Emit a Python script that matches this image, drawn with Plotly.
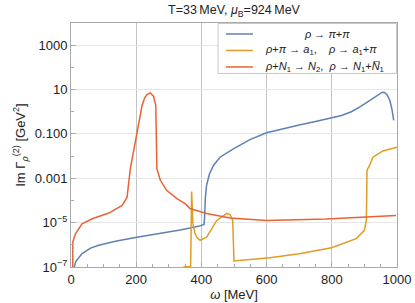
import plotly.graph_objects as go

# rho -> pi + pi
w_pipi = [8, 15, 34, 60, 85, 140, 202, 289, 335, 391, 408, 410, 412, 416, 425, 437, 457,
          498, 549, 600, 650, 700, 750, 800, 830, 860, 885, 910, 930, 945, 955, 962,
          970, 978, 984, 990]
v_pipi = [7.9e-8, 1.8e-7, 4.0e-7, 7.1e-7, 9.5e-7, 1.5e-6, 2.2e-6, 3.5e-6, 4.7e-6, 6.8e-6,
          8.3e-6, 2.0e-5, 1.26e-4, 5.0e-4, 1.6e-3, 3.8e-3, 8.9e-3,
          2.1e-2, 5.5e-2, 0.112, 0.17, 0.25, 0.36, 0.52, 0.68, 1.0, 1.6, 2.8, 4.5, 6.3, 7.6, 7.4,
          5.75, 3.2, 1.4, 0.41]

# rho + pi -> a1, rho -> a1 + pi
w_a1 = [345, 365, 367, 370, 374, 380, 386, 396, 416, 447, 478, 488, 493, 496, 500,
        610, 700, 799, 875, 900, 906, 908, 916, 926, 957, 1000]
v_a1 = [1.02e-7, 1.02e-7, 1.02e-7, 2.5e-4, 9.0e-6, 3.5e-6, 2.2e-6, 1.6e-6, 2.2e-6, 1.26e-5,
        2.6e-5, 2.3e-5, 1.5e-5, 1.26e-5, 1.86e-7,
        2.6e-7, 4.0e-7, 7.4e-7, 1.9e-6, 4.5e-6, 1.26e-5, 2.3e-3, 3.8e-3, 8.9e-3, 1.7e-2, 2.5e-2]

# rho + N1 -> N2, rho -> N1 + N1bar
w_nn = [5, 5.6, 14, 34, 65, 116, 157, 172, 182, 192, 202, 210, 218, 226, 233, 243, 253,
        260, 263.5, 274, 294, 325, 350, 365, 416, 488, 579, 600, 783, 997]
v_nn = [1e-9, 1.35e-6, 3.2e-6, 8.9e-6, 1.5e-5, 2.7e-5, 6.0e-5, 1.4e-4, 2.7e-3, 1.7e-2,
        0.12, 0.6, 1.9, 4.2, 6.0, 7.1, 5.0,
        2.0, 2.7e-3, 8.1e-4, 2.8e-4, 1.2e-4, 7.2e-5, 4.3e-5, 2.6e-5, 1.6e-5, 1.26e-5,
        1.26e-5, 1.45e-5, 2.1e-5]

x_ticks = [0, 200, 400, 600, 800, 1000]
y_ticks = [1e-7, 1e-5, 1e-3, 1e-1, 10, 1000]
y_ticktext = ["10<sup>\u22127</sup>", "10<sup>\u22125</sup>", "0.001", "0.100", "10", "1000"]
y_minor = [1e-6, 1e-4, 1e-2, 1, 100]

names = [
    "<i>\u03c1</i> \u2192 <i>\u03c0</i>+<i>\u03c0</i>",
    "<i>\u03c1</i>+<i>\u03c0</i> \u2192 <i>a</i><sub>1</sub>,\u00a0\u00a0\u00a0 <i>\u03c1</i> \u2192 <i>a</i><sub>1</sub>+<i>\u03c0</i>",
    "<i>\u03c1</i>+<i>N</i><sub>1</sub> \u2192 <i>N</i><sub>2</sub>,\u00a0 <i>\u03c1</i> \u2192 <i>N</i><sub>1</sub>+<i>N\u0305</i><sub>1</sub>",
]
colors = ["#5E81B5", "#E19C24", "#EB6235"]

FONT = "Liberation Sans, Arial, sans-serif"
W, H = 415, 303
ML, MR, MT, MB = 70.5, 17.5, 22.5, 36.3
PW, PH = W - ML - MR, H - MT - MB


def px(x):
    return (x - ML) / PW


def py(y):
    return (H - MB - y) / PH


fig = go.Figure()
for wx, vy, nm, c in zip([w_pipi, w_a1, w_nn], [v_pipi, v_a1, v_nn], names, colors):
    fig.add_trace(go.Scatter(x=wx, y=vy, mode="lines", line=dict(color=c, width=1.5),
                             name=nm, showlegend=False))

# legend box drawn in paper coordinates
shapes = [dict(type="rect", xref="paper", yref="paper", x0=px(218), x1=px(397),
               y0=py(73), y1=py(23), fillcolor="white", line=dict(color="#c8c8c8", width=1),
               layer="above")]
annotations = []
rows = [33.5, 50, 66.5]
for i, (nm, c) in enumerate(zip(names, colors)):
    shapes.append(dict(type="line", xref="paper", yref="paper", x0=px(226), x1=px(253),
                       y0=py(rows[i]), y1=py(rows[i]), line=dict(color=c, width=1.5),
                       layer="above"))
    if i == 0:
        annotations.append(dict(x=px(327), y=py(rows[i]), xref="paper", yref="paper",
                                text=nm, showarrow=False, xanchor="center", yanchor="middle",
                                font=dict(size=11, family=FONT, color="#222")))
    else:
        annotations.append(dict(x=px(263), y=py(rows[i]), xref="paper", yref="paper",
                                text=nm, showarrow=False, xanchor="left", yanchor="middle",
                                font=dict(size=11, family=FONT, color="#222")))

fig.update_layout(
    width=W, height=H,
    margin=dict(l=ML, r=MR, t=MT, b=MB),
    paper_bgcolor="white", plot_bgcolor="white",
    font=dict(family=FONT, size=13, color="#222"),
    title=dict(text="T=33\u2009MeV, <i>\u03bc</i><sub>B</sub>=924\u2009MeV",
               x=px(234), xanchor="center", xref="paper", y=0.967, yanchor="middle",
               font=dict(size=12.5, family=FONT, color="#222")),
    showlegend=False,
    shapes=shapes,
    annotations=annotations,
    xaxis=dict(range=[0, 1000], tickvals=x_ticks, showline=True, mirror=True,
               linecolor="#aaaaaa", linewidth=1, ticks="inside", ticklen=5,
               tickcolor="#aaaaaa", showgrid=True, gridcolor="#c4c4c4", gridwidth=1,
               zeroline=False, automargin=False,
               minor=dict(dtick=50, ticks="inside", ticklen=3, tickcolor="#aaaaaa", showgrid=False),
               title=dict(text="<i>\u03c9</i> [MeV]", standoff=0, font=dict(size=13)),
               tickfont=dict(size=13)),
    yaxis=dict(type="log", range=[-7, 4], tickvals=y_ticks, ticktext=y_ticktext,
               showline=True, mirror=True, linecolor="#aaaaaa", linewidth=1,
               ticks="inside", ticklen=5, tickcolor="#aaaaaa", automargin=False,
               showgrid=True, gridcolor="#e6e6e6", gridwidth=1, zeroline=False,
               minor=dict(tickvals=y_minor, ticks="inside", ticklen=3, tickcolor="#aaaaaa",
                          showgrid=False),
               title=dict(text="Im \u0393<sub><i>\u03c1</i></sub><sup>(2)</sup> [GeV<sup>2</sup>]",
                          standoff=6, font=dict(size=13)),
               tickfont=dict(size=13)),
)

fig.write_html("out.html", config={"displayModeBar": False},
               post_script="document.body.style.margin='0';")
